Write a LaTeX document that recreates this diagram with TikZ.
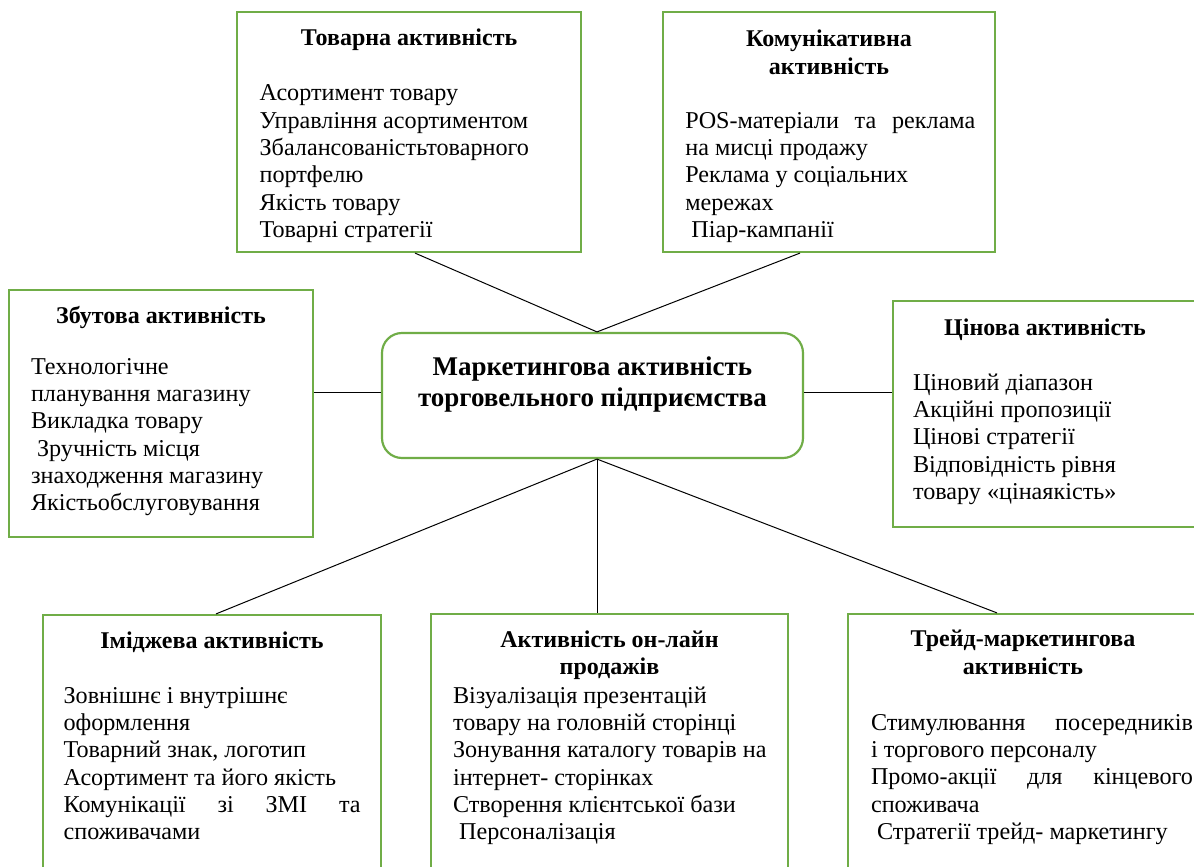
\documentclass[tikz,border=0pt]{standalone}
\usepackage{fontspec}
\setmainfont{Liberation Serif}
\usetikzlibrary{fit,calc}
\definecolor{boxgreen}{RGB}{112,173,71}
% a line whose interword spaces are stretched to the full text width
\newcommand{\spreadline}[1]{\makebox[\linewidth][s]{\spaceskip=.25em plus 1fil\relax #1}}

\begin{document}
\begin{tikzpicture}[x=0.6pt,y=-0.6pt,
  box/.style={draw=boxgreen, line width=1.3pt, inner sep=0pt, rectangle},
  hub/.style={box, rounded corners=12pt},
  link/.style={draw=black, line width=0.6pt},
  head/.style={anchor=base, inner sep=0pt, align=flush center,
    font=\fontsize{14.4}{16.4}\selectfont\bfseries},
  hubtext/.style={anchor=base, inner sep=0pt, align=flush center,
    font=\fontsize{16.2}{18.6}\selectfont\bfseries},
  body/.style={anchor=base west, inner sep=0pt, align=flush left,
    font=\fontsize{14.5}{16.4}\selectfont},
]
% page frame
\useasboundingbox (0,0) rectangle (1194,867);
\fill[white] (0,0) rectangle (1194,867);
\clip (0,0) rectangle (1194,867);

% frames
\node[box, fit={(237,12) (581,252)}] (tov) {};
\node[box, fit={(663,12) (995,252)}] (kom) {};
\node[box, fit={(9,290) (313,537)}] (zbut) {};
\node[hub, fit={(382,333) (803,458)}] (ctr) {};
\node[box, fit={(893,300.7) (1198,527)}] (cin) {};
\node[box, fit={(43,615) (381,885)}] (imid) {};
\node[box, fit={(431,614) (788,885)}] (onl) {};
\node[box, fit={(848,614) (1200,885)}] (trade) {};

% connectors
\coordinate (hl) at (0,392.7);
\draw[link] ($(tov.south)+(6,0)$) -- ($(ctr.north)+(4.5,0)$);
\draw[link] ($(kom.south)+(-29,0)$) -- ($(ctr.north)+(4.5,0)$);
\draw[link] (zbut.east |- hl) -- (ctr.west |- hl);
\draw[link] (ctr.east |- hl) -- (cin.west |- hl);
\draw[link] ($(ctr.south)+(4.5,0)$) -- ($(imid.north)+(4,0)$);
\draw[link] ($(ctr.south)+(4.5,0)$) -- ($(onl.north)+(-12.5,0)$);
\draw[link] ($(ctr.south)+(4.5,0)$) -- ($(trade.north)+(-27,0)$);

% central node
\node[hubtext, text width=240pt] (ctrT) at (592.5,375)
  {Маркетингова активність\\торговельного підприємства};

% product activity
\node[head, text width=200pt] (tovH) at (409,45.7) {Товарна активність};
\node[body, text width=189pt] (tovB) at (259.3,101)
  {Асортимент товару\\
   Управління асортиментом\\
   Збалансованістьтоварного\\
   портфелю\\
   Якість товару\\
   Товарні стратегії};

% communication activity
\node[head, text width=190pt] (komH) at (829,46.7) {Комунікативна\\активність};
\node[body, text width=174pt] (komB) at (685,128.3)
  {\spreadline{POS-матеріали та реклама}\\
   на мисці продажу\\
   Реклама у соціальних\\
   мережах\\
   \hspace*{0.25em}Піар-кампанії};

% sales activity
\node[head, text width=180pt] (zbutH) at (161,323.3) {Збутова активність};
\node[body, text width=172pt] (zbutB) at (30.7,374)
  {Технологічне\\
   планування магазину\\
   Викладка товару\\
   \hspace*{0.25em}Зручність місця\\
   знаходження магазину\\
   Якістьобслуговування};

% price activity
\node[head, text width=180pt] (cinH) at (1045,335) {Цінова активність};
\node[body, text width=165pt] (cinB) at (912.7,390)
  {Ціновий діапазон\\
   Акційні пропозиції\\
   Цінові стратегії\\
   Відповідність рівня\\
   товару «цінаякість»};

% image activity
\node[head, text width=200pt] (imidH) at (212,648) {Іміджева активність};
\node[body, text width=178.2pt] (imidB) at (63.3,703)
  {Зовнішнє і внутрішнє\\
   оформлення\\
   Товарний знак, логотип\\
   Асортимент та його якість\\
   \spreadline{Комунікації зі ЗМІ та}\\
   споживачами};

% online sales activity
\node[head, text width=200pt] (onlH) at (609.5,647.3) {Активність он-лайн\\продажів};
\node[body, text width=198pt] (onlB) at (452.7,703)
  {Візуалізація презентацій\\
   товару на головній сторінці\\
   Зонування каталогу товарів на\\
   інтернет- сторінках\\
   Створення клієнтської бази\\
   \hspace*{0.25em}Персоналізація};

% trade marketing activity
\node[head, text width=200pt] (tradeH) at (1023,646.7) {Трейд-маркетингова\\активність};
\node[body, text width=193.2pt] (tradeB) at (870.7,730)
  {\spreadline{Стимулювання посередників}\\
   і торгового персоналу\\
   \spreadline{Промо-акції для кінцевого}\\
   споживача\\
   \hspace*{0.25em}Стратегії трейд- маркетингу};
\end{tikzpicture}
\end{document}
